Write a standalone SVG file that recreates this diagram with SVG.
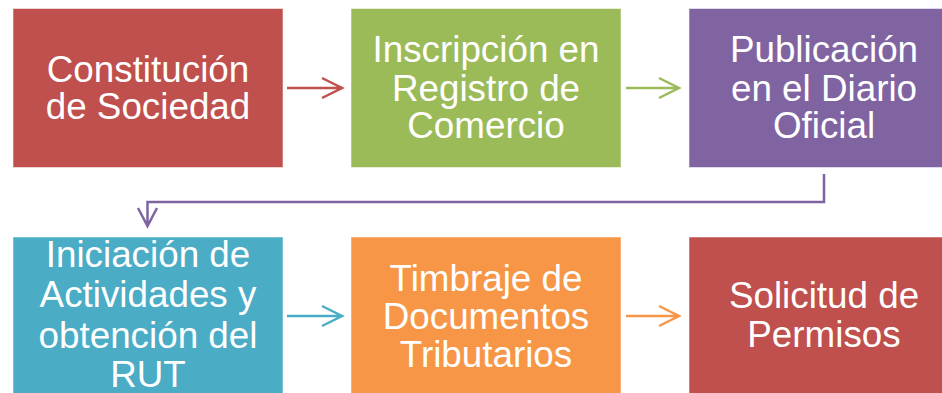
<svg xmlns="http://www.w3.org/2000/svg" width="942" height="393" viewBox="0 0 942 393">
<style>
.box{stroke:#ffffff;stroke-opacity:0.5;stroke-width:1}
.t{font-family:"Liberation Sans",Arial,sans-serif;font-size:36.8px;fill:#ffffff;text-anchor:middle}
.c{fill:none;stroke-width:2.5;stroke-linecap:butt;stroke-linejoin:miter}
</style>
<rect width="942" height="393" fill="#ffffff"/>
<g id="connectors">
<path class="c" stroke="#C0504D" d="M287,88 H341 M322,78 L342,88 L322,98"/>
<path class="c" stroke="#9BBB59" d="M626,88 H677 M659,78 L679,88 L659,98"/>
<path class="c" stroke="#8064A2" d="M824,174 V202 H147.5 V225 M138,208 L147.5,226 L157,208"/>
<path class="c" stroke="#4BACC6" d="M287,316 H341 M322,306 L342,316 L322,326"/>
<path class="c" stroke="#F79646" d="M626,316 H677 M659,306 L679,316 L659,326"/>
</g>
<g id="n1">
<rect class="box" x="13" y="8.5" width="270" height="159" fill="#C0504D"/>
<text class="t" x="148" y="82">Constitución</text>
<text class="t" x="148" y="118.5">de Sociedad</text>
</g>
<g id="n2">
<rect class="box" x="351" y="8.5" width="270" height="159" fill="#9BBB59"/>
<text class="t" x="486" y="62">Inscripción en</text>
<text class="t" x="486" y="100.5">Registro de</text>
<text class="t" x="486" y="138">Comercio</text>
</g>
<g id="n3">
<rect class="box" x="689" y="8.5" width="270" height="159" fill="#8064A2"/>
<text class="t" x="824" y="62">Publicación</text>
<text class="t" x="824" y="100.5">en el Diario</text>
<text class="t" x="824" y="138">Oficial</text>
</g>
<g id="n4">
<rect class="box" x="13" y="237" width="270" height="159" fill="#4BACC6"/>
<text class="t" x="148" y="267">Iniciación de</text>
<text class="t" x="148" y="307">Actividades y</text>
<text class="t" x="148" y="347.5">obtención del</text>
<text class="t" x="148" y="387">RUT</text>
</g>
<g id="n5">
<rect class="box" x="351" y="237" width="270" height="159" fill="#F79646"/>
<text class="t" x="486" y="291">Timbraje de</text>
<text class="t" x="486" y="329">Documentos</text>
<text class="t" x="486" y="367">Tributarios</text>
</g>
<g id="n6">
<rect class="box" x="689" y="237" width="270" height="159" fill="#C0504D"/>
<text class="t" x="824" y="308">Solicitud de</text>
<text class="t" x="824" y="347">Permisos</text>
</g>
</svg>
